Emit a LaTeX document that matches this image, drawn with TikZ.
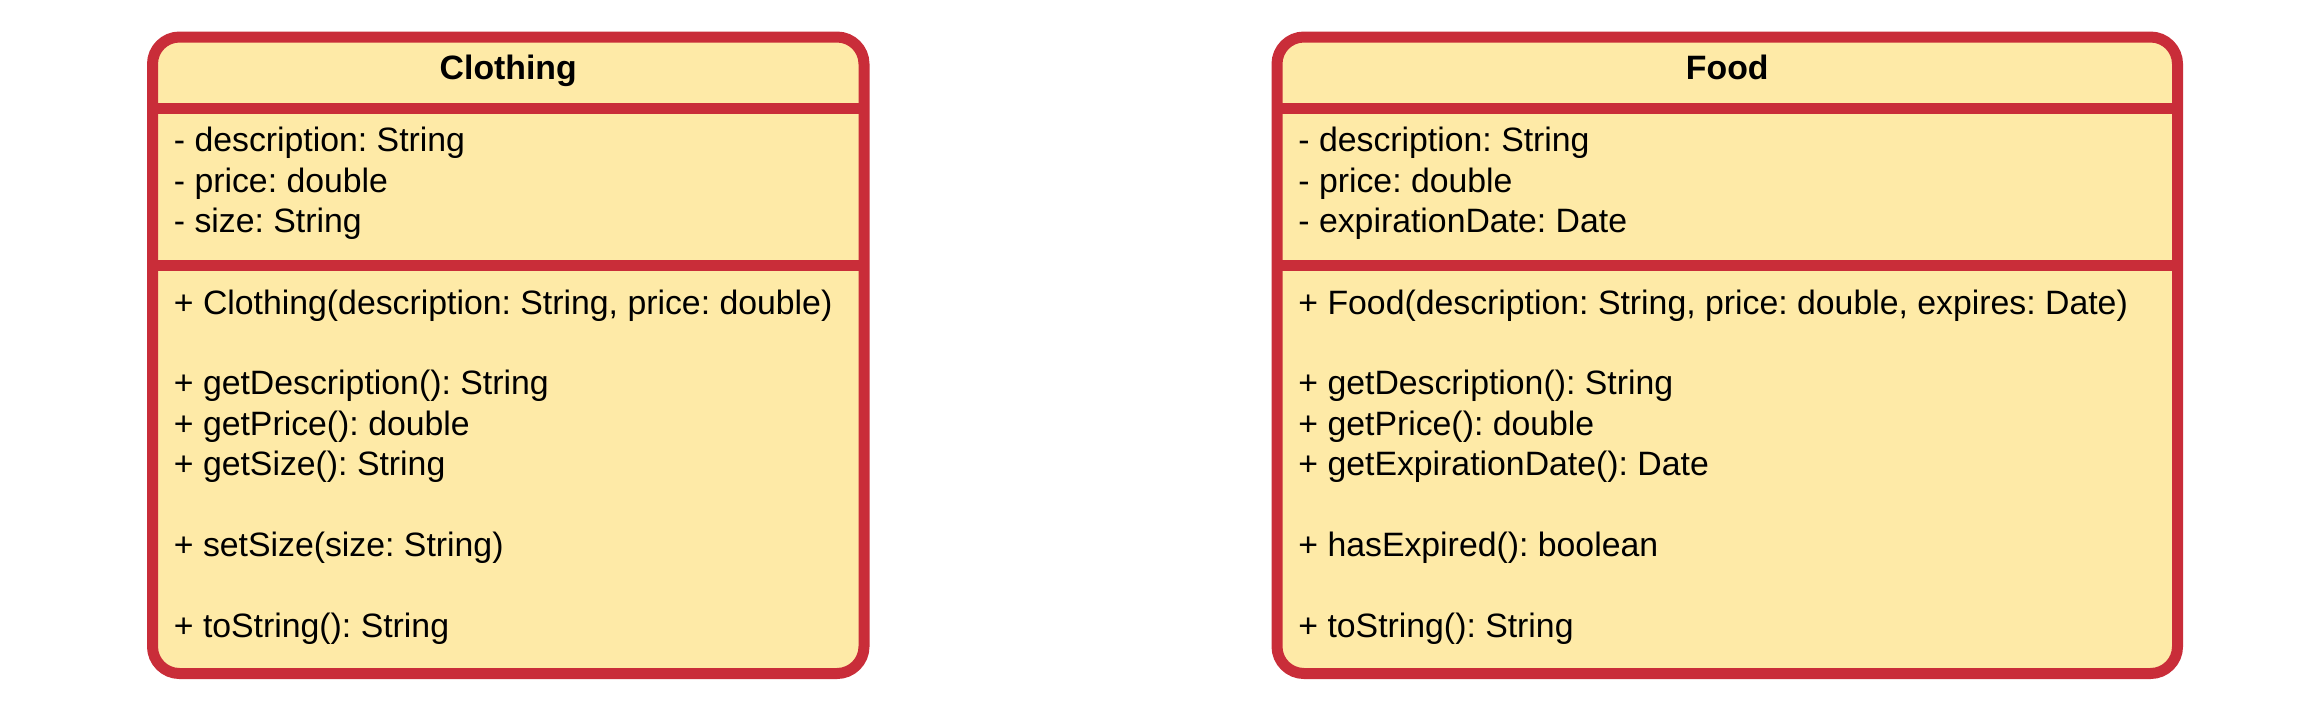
\documentclass[tikz,border=0pt]{standalone}
\usepackage{fontspec}
\setmainfont{Liberation Sans}
\usetikzlibrary{positioning,fit,calc}
\definecolor{classred}{RGB}{201,45,57}
\definecolor{classfill}{RGB}{254,234,167}
\frenchspacing

\begin{document}
\begin{tikzpicture}[
    x=0.5pt, y=-0.5pt,
    classbox/.style={draw=classred, fill=classfill, line width=5.5pt,
                     rounded corners=13.5pt, inner sep=0pt, outer sep=0pt},
    separator/.style={draw=classred, line width=5.5pt},
    classname/.style={anchor=base, inner sep=0pt,
                      font=\fontsize{16.9}{20.2}\selectfont\bfseries},
    members/.style={anchor=base west, inner sep=0pt, align=left,
                    font=\fontsize{16.9}{20.2}\selectfont}
]

% Keep the page at the size of the reference
\useasboundingbox (0,0) rectangle (2312,714);

% Clothing class
\coordinate (clothing-nw) at (152.5,37);
\coordinate (clothing-se) at (864,673.5);
\node[classbox, fit=(clothing-nw) (clothing-se)] (clothing) {};

\draw[separator] ($(clothing.north west)+(0,71.5)$) -- ($(clothing.north east)+(0,71.5)$);
\draw[separator] ($(clothing.north west)+(0,228)$) -- ($(clothing.north east)+(0,228)$);

\node[classname] (clothing-title) at ($(clothing.north)+(0,42.5)$) {Clothing};

% anchored at the baseline of the last line
\node[members] (clothing-attrs) at ($(clothing.north west)+(21,195.7)$) {
    - description: String\\
    - price: double\\
    - size: String
};

\node[members] (clothing-ops) at ($(clothing.north west)+(21,600.3)$) {
    + Clothing(description: String, price: double)\\[20.2pt]
    + getDescription(): String\\
    + getPrice(): double\\
    + getSize(): String\\[20.2pt]
    + setSize(size: String)\\[20.2pt]
    + toString(): String
};

% Food class
\coordinate (food-nw) at (1277,37);
\coordinate (food-se) at (2177.5,673.5);
\node[classbox, fit=(food-nw) (food-se)] (food) {};

\draw[separator] ($(food.north west)+(0,71.5)$) -- ($(food.north east)+(0,71.5)$);
\draw[separator] ($(food.north west)+(0,228)$) -- ($(food.north east)+(0,228)$);

\node[classname] (food-title) at ($(food.north)+(0,42.5)$) {Food};

\node[members] (food-attrs) at ($(food.north west)+(21,195.7)$) {
    - description: String\\
    - price: double\\
    - expirationDate: Date
};

\node[members] (food-ops) at ($(food.north west)+(21,600.3)$) {
    + Food(description: String, price: double, expires: Date)\\[20.2pt]
    + getDescription(): String\\
    + getPrice(): double\\
    + getExpirationDate(): Date\\[20.2pt]
    + hasExpired(): boolean\\[20.2pt]
    + toString(): String
};

\end{tikzpicture}
\end{document}
